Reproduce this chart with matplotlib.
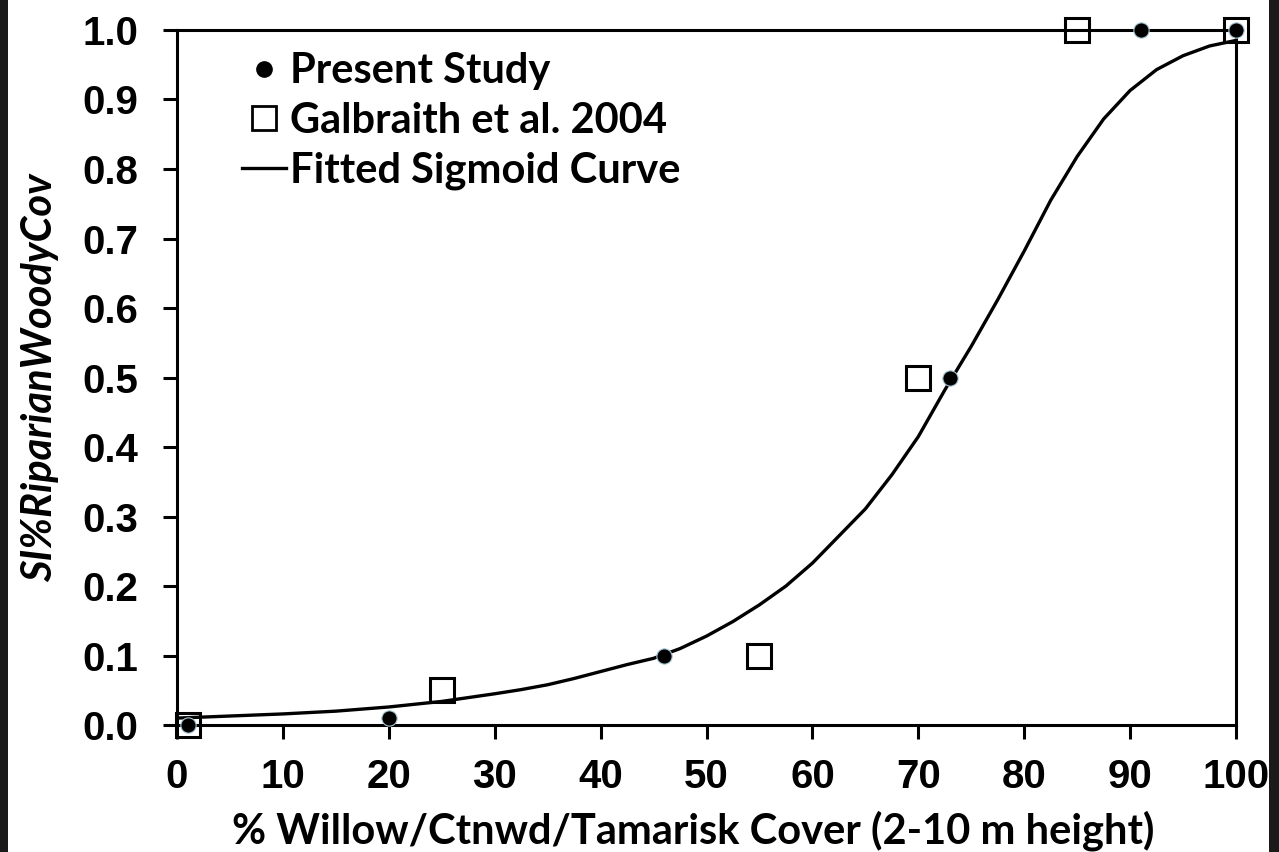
import numpy as np
import matplotlib
matplotlib.use('Agg')
import matplotlib.pyplot as plt
from matplotlib.lines import Line2D
from matplotlib.patches import Rectangle
from matplotlib.font_manager import FontProperties

# Present Study points
present_x = [1, 20, 46, 73, 91, 100]
present_y = [0.0, 0.01, 0.1, 0.5, 1.0, 1.0]

# Galbraith et al. 2004 points
galb_x = [1, 25, 55, 70, 85, 100]
galb_y = [0.0, 0.05, 0.1, 0.5, 1.0, 1.0]

# fitted sigmoid curve
curve_x = [0, 5, 10, 15, 20, 25, 30, 32.5, 35, 37.5, 40, 42.5, 45, 47.5,
           50, 52.5, 55, 57.5, 60, 62.5, 65, 67.5, 70, 72.5, 75, 77.5, 80,
           82.5, 85, 87.5, 90, 92.5, 95, 97.5, 100]
curve_y = [0.010, 0.013, 0.016, 0.020, 0.026, 0.034, 0.045, 0.051, 0.058,
           0.067, 0.077, 0.087, 0.096, 0.110, 0.128, 0.149, 0.173, 0.200,
           0.233, 0.272, 0.311, 0.360, 0.415, 0.482, 0.545, 0.612, 0.682,
           0.755, 0.818, 0.872, 0.913, 0.943, 0.963, 0.977, 0.985]

xticks = list(range(0, 101, 10))
yticks = [i / 10 for i in range(0, 11)]

fig = plt.figure(figsize=(12.79, 8.52), dpi=100)
ax = fig.add_axes([0.1384, 0.149, 0.828, 0.8158])

ax.plot(curve_x, curve_y, color='black', linewidth=2.4, zorder=2,
        solid_joinstyle='round')
ax.plot(galb_x, galb_y, linestyle='none', marker='s', markersize=17,
        markerfacecolor='none', markeredgecolor='black', markeredgewidth=2.2,
        clip_on=False, zorder=3)
ax.plot(present_x, present_y, linestyle='none', marker='o', markersize=11,
        markerfacecolor='black', markeredgecolor='#a8c8d8', markeredgewidth=0.8,
        clip_on=False, zorder=4)

ax.set_xlim(0, 100)
ax.set_ylim(0, 1.0)
ax.set_xticks(xticks)
ax.set_yticks(yticks)
ax.set_yticklabels(['%.1f' % v for v in yticks])
tick_font = FontProperties(family='Liberation Sans', weight='bold', size=29)
for lab in ax.get_xticklabels() + ax.get_yticklabels():
    lab.set_fontproperties(tick_font)
ax.tick_params(axis='both', direction='out', length=10, width=2.2, color='black')
ax.tick_params(axis='y', pad=18)
ax.tick_params(axis='x', pad=14)
for sp in ax.spines.values():
    sp.set_linewidth(2.2)

ax.set_xlabel('% Willow/Ctnwd/Tamarisk Cover (2-10 m height)',
              fontfamily='Lato', fontweight='bold', fontsize=30)
ax.xaxis.set_label_coords(0.487, -0.123)
ax.set_ylabel('SI%RiparianWoodyCov', fontfamily='Lato', fontweight='bold',
              fontstyle='italic', fontsize=30)
ax.yaxis.set_label_coords(-0.111, 0.5)

handles = [
    Line2D([], [], linestyle='none', marker='o', markersize=11,
           markerfacecolor='black', markeredgecolor='black'),
    Line2D([], [], linestyle='none', marker='s', markersize=17,
           markerfacecolor='none', markeredgecolor='black', markeredgewidth=2),
    Line2D([], [], color='black', linewidth=2.4),
]
labels = ['Present Study', 'Galbraith et al. 2004', 'Fitted Sigmoid Curve']
ax.legend(handles, labels, loc='upper left', bbox_to_anchor=(0.046, 0.992),
          frameon=False, handlelength=1.05, handletextpad=0.1,
          labelspacing=0.28, borderaxespad=0,
          prop={'family': 'Lato', 'weight': 'bold', 'size': 30})

# dark edges of the original screenshot
fig.patches.append(Rectangle((0, 0), 0.006, 1, transform=fig.transFigure,
                             facecolor='#1a1a1a', edgecolor='none'))
fig.patches.append(Rectangle((0.992, 0), 0.008, 1, transform=fig.transFigure,
                             facecolor='#1a1a1a', edgecolor='none'))

fig.savefig('out.png', dpi=100)
